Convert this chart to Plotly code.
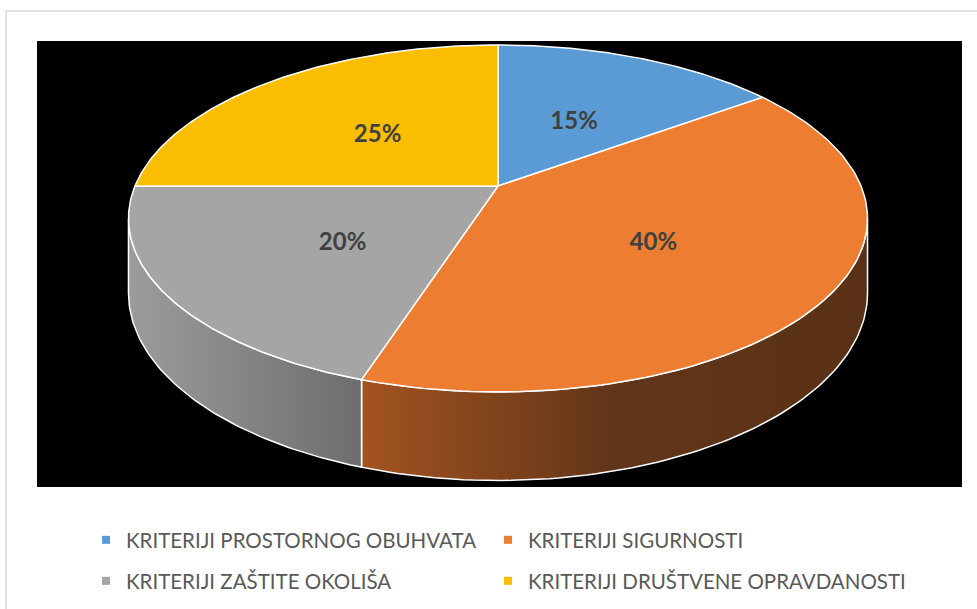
import numpy as np
import plotly.graph_objects as go

# ---- data ----
categories = ["KRITERIJI PROSTORNOG OBUHVATA", "KRITERIJI SIGURNOSTI",
              "KRITERIJI ZAŠTITE OKOLIŠA", "KRITERIJI DRUŠTVENE OPRAVDANOSTI"]
values = [15, 40, 20, 25]
top_colors = ["#5B9BD5", "#ED7D31", "#A5A5A5", "#FABD00"]
side_colors = [
    [[0, "#3f6d96"], [1, "#2e5070"]],
    [[0, "#A3531F"], [0.5, "#613519"], [1, "#5A3116"]],
    [[0, "#9c9c9c"], [1, "#6d6d6d"]],
    [[0, "#b38600"], [1, "#8a6700"]],
]
legend_pos = [(86, 540), (488, 540), (86, 581), (488, 581)]   # page px (left, row centre)

# ---- pseudo-3D pie geometry (pixel-like data space) ----
CX, CY = 498.0, 186.0    # projected pie centre
A, B = 363.0, 167.4      # radii
K = -0.187               # perspective factor
H = 72.0                 # thickness
LBL_R = 0.5


def proj(theta_deg, r=1.0, drop=0.0):
    th = np.radians(theta_deg)
    u = r * np.sin(th)
    v = -r * np.cos(th)
    d = 1 + K * v
    return CX + A * u / d, CY + (B * v + drop) / d


total = float(sum(values))
bounds = np.concatenate([[0], np.cumsum(values)]) / total * 360.0
th_right = np.degrees(np.arccos(K))
th_left = 360.0 - th_right

fig = go.Figure()

# sides
for i in range(len(values)):
    a, b = max(bounds[i], th_right), min(bounds[i + 1], th_left)
    if b <= a:
        continue
    t = np.linspace(a, b, 80)
    xt, yt = proj(t)
    xb, yb = proj(t[::-1], drop=H)
    xs = np.concatenate([xt, xb, xt[:1]])
    ys = np.concatenate([yt, yb, yt[:1]])
    fig.add_trace(go.Scatter(
        x=xs, y=ys, mode="lines", fill="toself",
        line=dict(color="white", width=1.5),
        fillgradient=dict(type="horizontal", colorscale=side_colors[i]),
        showlegend=False, hoverinfo="skip"))

# tops
for i in range(len(values)):
    t = np.linspace(bounds[i], bounds[i + 1], 120)
    xa, ya = proj(t)
    xs = np.concatenate([[CX], xa, [CX]])
    ys = np.concatenate([[CY], ya, [CY]])
    fig.add_trace(go.Scatter(
        x=xs, y=ys, mode="lines", fill="toself", fillcolor=top_colors[i],
        line=dict(color="white", width=1.5),
        showlegend=False, hoverinfo="skip"))

# labels
mids = (bounds[:-1] + bounds[1:]) / 2
lx, ly = proj(mids, r=LBL_R)
fig.add_trace(go.Scatter(
    x=lx, y=ly + 6, mode="text", text=[f"{v}%" for v in values],
    textfont=dict(family="Lato", size=24, color="#404040", weight="bold"),
    showlegend=False, hoverinfo="skip"))

L, R, T, Bm = 37, 15, 41, 122
W, Hh = 977, 609
pw, ph = W - L - R, Hh - T - Bm

def px_x(x):
    return (x - L) / pw

def px_y(y):
    return (Hh - Bm - y) / ph

legend_names = ["legend", "legend2", "legend3", "legend4"]
legends = {}
for i, name in enumerate(categories):
    fig.add_trace(go.Scatter(
        x=[None], y=[None], mode="markers", name=name,
        marker=dict(symbol="square", size=8, color=top_colors[i]),
        legend=legend_names[i]))
    lx0, ly0 = legend_pos[i]
    legends[legend_names[i]] = dict(
        orientation="h", font=dict(family="Lato", size=20.5, color="#595959"),
        bgcolor="rgba(0,0,0,0)", x=px_x(lx0), xanchor="left",
        y=px_y(ly0), yanchor="middle", itemclick=False, itemdoubleclick=False)

fig.update_layout(
    width=W, height=Hh,
    margin=dict(l=L, r=R, t=T, b=Bm, pad=0, autoexpand=False),
    paper_bgcolor="white", plot_bgcolor="black",
    xaxis=dict(range=[L, W - R], visible=False, fixedrange=True),
    yaxis=dict(range=[Hh - Bm, T], visible=False, fixedrange=True),
    shapes=[dict(type="rect", xref="paper", yref="paper",
                 x0=px_x(6), x1=px_x(990), y0=px_y(640), y1=px_y(11),
                 line=dict(color="#d9d9d9", width=1.5), fillcolor="rgba(0,0,0,0)",
                 layer="below")],
    **legends,
)

fig.write_html("out.html", config={"displayModeBar": False},
               post_script="document.body.style.margin='0';")
